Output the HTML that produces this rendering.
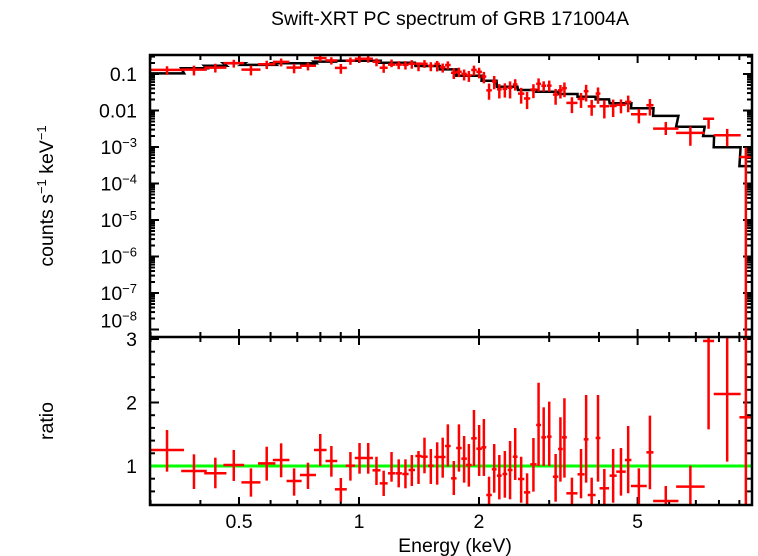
<!DOCTYPE html>
<html><head><meta charset="utf-8">
<style>
html,body{margin:0;padding:0;background:#fff;overflow:hidden;width:758px;height:556px;}
svg{display:block;font-family:"Liberation Sans",sans-serif;}
</style></head>
<body>
<svg id="chart" width="758" height="556" viewBox="0 0 758 556" xmlns="http://www.w3.org/2000/svg" overflow="hidden">
<defs>
<clipPath id="clipTop"><rect x="150" y="55" width="602" height="282"/></clipPath>
<clipPath id="clipBot"><rect x="150" y="337" width="602" height="168"/></clipPath>
</defs>
<text x="450" y="25" font-size="19.5" text-anchor="middle">Swift-XRT PC spectrum of GRB 171004A</text>
<text transform="translate(53,196) rotate(-90)" font-size="19.5" text-anchor="middle">counts s<tspan dy="-7" font-size="13">−1</tspan><tspan dy="7"> keV</tspan><tspan dy="-7" font-size="13">−1</tspan></text>
<text transform="translate(53,421) rotate(-90)" font-size="19.5" text-anchor="middle">ratio</text>
<text x="455" y="552" font-size="19.5" text-anchor="middle">Energy (keV)</text>
<g id="axes"></g>
<g id="model" clip-path="url(#clipTop)"></g>
<g id="dataTop" clip-path="url(#clipTop)"></g>
<g id="unity" clip-path="url(#clipBot)"></g>
<g id="dataBot" clip-path="url(#clipBot)"></g>
<g id="frame"></g>
</svg>
<script>
const eLo=[0.299,0.358,0.409,0.457,0.507,0.558,0.608,0.658,0.711,0.771,0.824,0.870,0.926,0.976,1.026,1.081,1.127,1.182,1.235,1.284,1.332,1.385,1.433,1.490,1.546,1.596,1.644,1.702,1.753,1.806,1.856,1.912,1.970,2.029,2.086,2.154,2.219,2.291,2.360,2.432,2.505,2.593,2.689,2.783,2.867,2.960,3.065,3.158,3.231,3.313,3.533,3.663,3.748,3.923,4.013,4.253,4.419,4.648,4.812,5.260,5.469,6.245,7.298,7.761,9.003];
const eHi=[0.364,0.415,0.465,0.515,0.566,0.617,0.669,0.718,0.780,0.829,0.882,0.932,0.978,1.031,1.084,1.132,1.180,1.232,1.281,1.332,1.382,1.436,1.487,1.539,1.596,1.648,1.698,1.757,1.810,1.865,1.917,1.974,2.034,2.086,2.154,2.214,2.280,2.354,2.427,2.499,2.599,2.689,2.790,2.861,2.946,3.042,3.163,3.245,3.322,3.533,3.680,3.765,3.923,4.033,4.241,4.431,4.668,4.823,5.271,5.480,6.330,7.365,7.778,9.067,9.70];
const ratio=[1.252,0.921,0.885,1.016,0.743,1.042,1.094,0.764,0.858,1.252,1.079,0.633,1.005,1.126,1.126,0.932,0.727,0.885,0.885,0.874,0.937,1.157,1.146,1.005,1.142,1.142,1.315,0.806,1.283,1.116,1.016,1.436,1.273,1.294,0.543,0.948,0.848,0.874,0.937,1.146,0.795,0.585,1.026,1.646,1.451,1.462,0.832,1.268,1.451,0.570,0.869,1.420,0.543,1.441,0.649,0.848,0.911,1.094,0.685,1.215,0.449,0.675,2.969,2.134,1.767];
const ratioHi=[1.567,1.184,1.131,1.252,0.963,1.304,1.357,0.963,1.052,1.504,1.315,0.811,1.220,1.362,1.362,1.146,0.926,1.220,1.105,1.105,1.173,1.236,1.446,1.268,1.373,1.446,1.656,1.079,1.656,1.472,1.346,1.882,1.646,1.740,0.832,1.346,1.173,1.236,1.394,1.598,1.146,0.885,1.441,2.312,1.924,2.013,1.189,1.767,2.066,0.816,1.268,2.118,0.816,2.118,0.953,1.268,1.283,1.630,0.963,1.793,0.685,1.005,3.2,3.2,3.2];
const ratioLo=[0.911,0.638,0.649,0.764,0.517,0.770,0.822,0.533,0.638,1.000,0.832,0.438,0.770,0.879,0.879,0.701,0.528,0.753,0.664,0.649,0.685,0.717,0.885,0.717,0.706,0.816,0.990,0.543,0.911,0.738,0.675,1.000,0.843,0.843,0.30,0.580,0.475,0.501,0.475,0.780,0.422,0.30,0.596,1.000,1.000,1.000,0.438,0.753,0.816,0.30,0.491,0.738,0.30,0.753,0.30,0.422,0.533,0.570,0.386,0.633,0.30,0.30,1.577,1.068,0.0];
const model=[0.104,0.143,0.169,0.196,0.177,0.177,0.196,0.196,0.196,0.218,0.218,0.232,0.232,0.232,0.232,0.232,0.204,0.204,0.204,0.204,0.204,0.166,0.166,0.166,0.166,0.134,0.134,0.134,0.09,0.09,0.09,0.09,0.09,0.0657,0.0657,0.0657,0.045,0.045,0.045,0.045,0.0365,0.0365,0.0365,0.0328,0.0328,0.0328,0.0328,0.0283,0.0283,0.0283,0.0239,0.0239,0.0239,0.0202,0.0202,0.0157,0.0157,0.0157,0.0115,0.0115,0.0071,0.0036,0.0020,0.00098,0.0003];
const xMajor=[0.5,1,2,5];
const xMajorLabels=["0.5","1","2","5"];
const xMinor=[0.3,0.4,0.6,0.7,0.8,0.9,3,4,6,7,8,9];
const yTopDecades=[-1,-2,-3,-4,-5,-6,-7,-8];
const yTopLabelsPlain={"-1":"0.1","-2":"0.01"};
const yBotMajor=[1,2,3];

const NS="http://www.w3.org/2000/svg";
const L=150,R=752,T=55,M=337,B=505;
function X(e){return 359+398.6*Math.log10(e);}
function YT(c){if(c<=0)return 345;return Math.min(345,74-36.5*(Math.log10(c)+1));}
function YB(r){return Math.max(330,Math.min(512,466-63.5*(r-1)));}
function mk(tag,attrs,parent){const el=document.createElementNS(NS,tag);for(const k in attrs)el.setAttribute(k,attrs[k]);parent.appendChild(el);return el;}
function line(p,x1,y1,x2,y2,c,w){return mk('line',{x1:x1,y1:y1,x2:x2,y2:y2,stroke:c,'stroke-width':w},p);}

const axes=document.getElementById('axes');
xMajor.forEach((e,i)=>{const x=X(e);
 [[T,8],[M,-8],[M,8],[B,-8]].forEach(([y,d])=>{const t=line(axes,x,y,x,y+d,'#000',2);
 
 });
 const tx=mk('text',{x:x,y:528,'font-size':19.5,'text-anchor':'middle'},axes);tx.textContent=xMajorLabels[i];
 
 
});
xMinor.forEach(e=>{const x=X(e);
 [[T,5],[M,-5],[M,5],[B,-5]].forEach(([y,d])=>{const t=line(axes,x,y,x,y+d,'#000',2);
 
 });
});
yTopDecades.forEach(d=>{
 const y=YT(Math.pow(10,d));
 if(y>T-1&&y<M){line(axes,L,y,L+9,y,'#000',2);line(axes,R,y,R-9,y,'#000',2);
  const ly=(d===-8)?y-2:y+7;
  const tx=mk('text',{x:137,y:ly,'font-size':19.5,'text-anchor':'end'},axes);
  
  
  if(yTopLabelsPlain[d])tx.textContent=yTopLabelsPlain[d];
  else{const a=mk('tspan',{},tx);a.textContent='10';const b=mk('tspan',{dy:-7,'font-size':13},tx);b.textContent='−'+(-d);}
 }
 for(let k=2;k<=9;k++){const yy=74-36.5*(Math.log10(k*Math.pow(10,d))+1);if(yy>T&&yy<M){line(axes,L,yy,L+5,yy,'#000',2);line(axes,R,yy,R-5,yy,'#000',2);}}
});
for(let r=0.4;r<3.01;r+=0.2){const y=YB(r);if(y<B-1&&y>M){line(axes,L,y,L+5,y,'#000',2);line(axes,R,y,R-5,y,'#000',2);}}
yBotMajor.forEach(r=>{const y=YB(r);line(axes,L,y,L+9,y,'#000',2);line(axes,R,y,R-9,y,'#000',2);
 const tx=mk('text',{x:137,y:y+7,'font-size':19.5,'text-anchor':'end'},axes);tx.textContent=String(r);
 
 });

const mg=document.getElementById('model');
let pts=[];
model.forEach((m,i)=>{const y=YT(m);pts.push((i==0?L:X(eLo[i])).toFixed(1)+','+y.toFixed(1));pts.push(X(eHi[i]).toFixed(1)+','+y.toFixed(1));});
const pl=mk('polyline',{points:pts.join(' '),fill:'none',stroke:'#000','stroke-width':2.5},mg);



const ug=document.getElementById('unity');
const ul=line(ug,L,YB(1),R,YB(1),'#00ff00',3);



const dt=document.getElementById('dataTop'),db=document.getElementById('dataBot');
ratio.forEach((r,i)=>{
 const xc=X(Math.sqrt(eLo[i]*eHi[i])),x1=X(eLo[i]),x2=X(eHi[i]);
 const gT=mk('g',{},dt);
 
 
 const m=model[i];
 line(gT,x1,YT(m*r),x2,YT(m*r),'#ff0000',2.5);
 line(gT,xc,YT(m*ratioHi[i]),xc,YT(m*ratioLo[i]),'#ff0000',2.5);
 const gB=mk('g',{},db);
 
 
 line(gB,x1,YB(r),x2,YB(r),'#ff0000',2.5);
 line(gB,xc,YB(ratioHi[i]),xc,YB(ratioLo[i]),'#ff0000',2.5);
});

const fr=document.getElementById('frame');
mk('rect',{x:L,y:T,width:R-L,height:B-T,fill:'none',stroke:'#000','stroke-width':2.5},fr);
line(fr,L,M,R,M,'#000',2.5);
</script>
</body></html>
